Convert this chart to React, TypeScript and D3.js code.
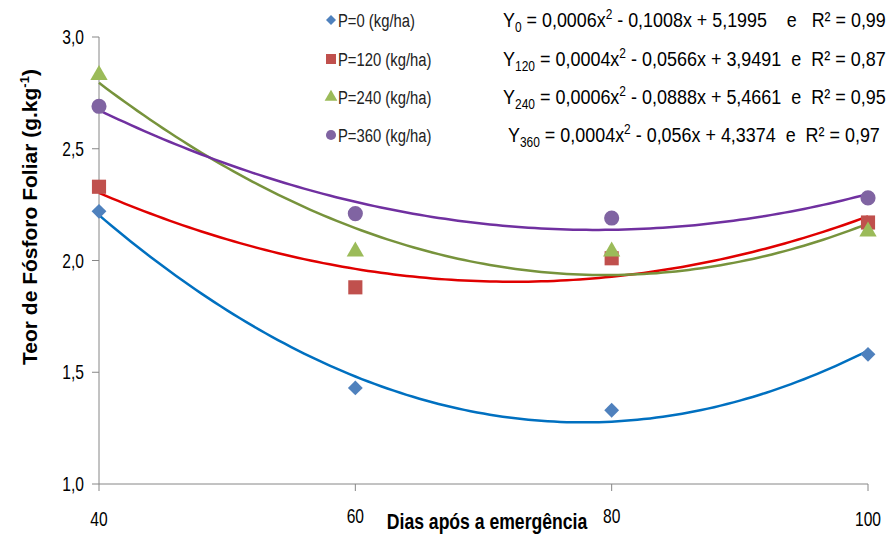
import React, { useEffect, useRef } from "react";
import * as d3 from "d3";

const dias = [40, 60, 80, 100];
const p0 = [2.22, 1.43, 1.33, 1.58];
const p120 = [2.33, 1.88, 2.01, 2.17];
const p240 = [2.83, 2.04, 2.04, 2.13];
const p360 = [2.69, 2.21, 2.19, 2.28];
const yTicks = [1.0, 1.5, 2.0, 2.5, 3.0];
const legendLabels = ["P=0 (kg/ha)", "P=120 (kg/ha)", "P=240 (kg/ha)", "P=360 (kg/ha)"];
const eqSub = ["0", "120", "240", "360"];
const eqA = ["0,0006", "0,0004", "0,0006", "0,0004"];
const eqB = ["0,1008x + 5,1995", "0,0566x + 3,9491", "0,0888x + 5,4661", "0,056x + 4,3374"];
const eqR2 = ["0,99", "0,87", "0,95", "0,97"];
const eqSep = ["    e   ", "  e  ", "  e  ", "  e  "];

const series = [
  { name: "p0", values: p0, marker: "#4F81BD", line: "#0070C0", shape: "diamond" },
  { name: "p120", values: p120, marker: "#C0504D", line: "#E00000", shape: "square" },
  { name: "p240", values: p240, marker: "#9BBB59", line: "#77933C", shape: "triangle" },
  { name: "p360", values: p360, marker: "#8064A2", line: "#7030A0", shape: "circle" },
];

// least squares quadratic (Excel style polynomial trendline)
function fitQuad(xs: number[], ys: number[]) {
  const n = xs.length;
  let s = [0, 0, 0, 0, 0];
  let t = [0, 0, 0];
  for (let i = 0; i < n; i++) {
    for (let k = 0; k < 5; k++) s[k] += Math.pow(xs[i], k);
    for (let k = 0; k < 3; k++) t[k] += ys[i] * Math.pow(xs[i], k);
  }
  const m = [
    [s[0], s[1], s[2], t[0]],
    [s[1], s[2], s[3], t[1]],
    [s[2], s[3], s[4], t[2]],
  ];
  for (let i = 0; i < 3; i++) {
    for (let j = i + 1; j < 3; j++) {
      const f = m[j][i] / m[i][i];
      for (let k = i; k < 4; k++) m[j][k] -= f * m[i][k];
    }
  }
  const c = [0, 0, 0];
  for (let i = 2; i >= 0; i--) {
    let v = m[i][3];
    for (let k = i + 1; k < 3; k++) v -= m[i][k] * c[k];
    c[i] = v / m[i][i];
  }
  return (x: number) => c[0] + c[1] * x + c[2] * x * x;
}

function symbolFor(shape: string, size: number) {
  const map: any = {
    diamond: d3.symbolSquare,
    square: d3.symbolSquare,
    triangle: d3.symbolTriangle,
    circle: d3.symbolCircle,
  };
  return d3.symbol().type(map[shape]).size(size)();
}

const sans = "'Liberation Sans', Arial, sans-serif";
const squeeze = 0.78; // the original uses a condensed face

export default function App() {
  const ref = useRef<SVGSVGElement>(null);

  useEffect(() => {
    document.body.style.margin = "0";
    const width = 889;
    const height = 535;
    const svg = d3.select(ref.current).attr("width", width).attr("height", height);
    svg.selectAll("*").remove();

    const xScale = d3.scaleLinear().domain([40, 100]).range([99, 868]);
    const yScale = d3.scaleLinear().domain([1, 3]).range([484, 37]);

    svg.append("rect").attr("width", width).attr("height", height).attr("fill", "#fff");

    // axes
    const axisColor = "#868686";
    svg.append("line").attr("x1", 99).attr("x2", 99).attr("y1", yScale(3)).attr("y2", yScale(1))
      .attr("stroke", axisColor).attr("stroke-width", 1);
    svg.append("line").attr("x1", 99).attr("x2", 868).attr("y1", yScale(1)).attr("y2", yScale(1))
      .attr("stroke", axisColor).attr("stroke-width", 1);

    svg.selectAll(".ytick").data(yTicks).join("line").attr("class", "ytick")
      .attr("x1", 92).attr("x2", 99)
      .attr("y1", d => yScale(d)).attr("y2", d => yScale(d))
      .attr("stroke", axisColor);
    svg.selectAll(".ylab").data(yTicks).join("text").attr("class", "ylab")
      .attr("transform", d => `translate(84,${yScale(d)}) scale(${squeeze},1)`)
      .attr("dy", "0.35em")
      .attr("text-anchor", "end").attr("font-family", sans).attr("font-size", 20)
      .attr("fill", "#000")
      .text(d => d3.format(".1f")(d).replace(".", ","));

    svg.selectAll(".xtick").data(dias).join("line").attr("class", "xtick")
      .attr("x1", d => xScale(d)).attr("x2", d => xScale(d))
      .attr("y1", yScale(1)).attr("y2", yScale(1) + 7)
      .attr("stroke", axisColor);
    svg.selectAll(".xlab").data(dias).join("text").attr("class", "xlab")
      .attr("transform", d => `translate(${xScale(d)},${d === 40 || d === 100 ? 526 : 523}) scale(${squeeze},1)`)
      .attr("text-anchor", "middle").attr("font-family", sans).attr("font-size", 20)
      .attr("fill", "#000")
      .text(d => d);

    // titles
    svg.append("text").attr("transform", `translate(487,529) scale(0.8,1)`).attr("text-anchor", "middle")
      .attr("font-family", sans).attr("font-weight", "bold").attr("font-size", 22)
      .text("Dias após a emergência");

    const yt = svg.append("text").attr("transform", "translate(37,217) rotate(-90)")
      .attr("text-anchor", "middle").attr("font-family", sans)
      .attr("font-weight", "bold").attr("font-size", 21);
    yt.append("tspan").text("Teor de Fósforo Foliar (g.kg");
    yt.append("tspan").attr("dy", -8).attr("font-size", 13).text("-1");
    yt.append("tspan").attr("dy", 8).text(")");

    // trendlines
    const xs = d3.range(40, 100.01, 0.5);
    series.forEach(s => {
      const f = fitQuad(dias, s.values);
      const line = d3.line<number>().x(d => xScale(d)).y(d => yScale(f(d)));
      svg.append("path").datum(xs).attr("d", line).attr("fill", "none")
        .attr("stroke", s.line).attr("stroke-width", 2.5);
    });

    // markers
    series.forEach(s => {
      svg.selectAll(".m-" + s.name).data(s.values).join("path").attr("class", "m-" + s.name)
        .attr("d", symbolFor(s.shape, s.shape === "circle" ? 180 : s.shape === "triangle" ? 130 : s.shape === "diamond" ? 110 : 200))
        .attr("transform", (d, i) => `translate(${xScale(dias[i])},${yScale(d)})${s.shape === "diamond" ? " rotate(45)" : ""}`)
        .attr("fill", s.marker);
    });

    // legend + equations
    const rows = [20, 59, 97, 135];
    const eqStart = [503, 503, 503, 508];
    const eqEnd = [886, 886, 886, 880];
    series.forEach((s, i) => {
      const g = svg.append("g").attr("transform", `translate(331,${rows[i]})`);
      g.append("path")
        .attr("d", symbolFor(s.shape, s.shape === "circle" ? 80 : s.shape === "triangle" ? 70 : s.shape === "diamond" ? 50 : 100))
        .attr("transform", s.shape === "diamond" ? "rotate(45)" : null)
        .attr("fill", s.marker);
      g.append("text").attr("transform", `translate(7,0) scale(${squeeze},1)`).attr("dy", "0.35em")
        .attr("font-family", sans).attr("font-size", 19).attr("fill", "#222")
        .text(legendLabels[i]);

      const eq = svg.append("text").attr("dy", "0.35em")
        .attr("font-family", sans).attr("font-size", 21).attr("fill", "#000")
        .style("white-space", "pre");
      eq.append("tspan").text("Y");
      eq.append("tspan").attr("dy", 5).attr("font-size", 14).text(eqSub[i]);
      eq.append("tspan").attr("dy", -5).text(` = ${eqA[i]}x`);
      eq.append("tspan").attr("dy", -8).attr("font-size", 14).text("2");
      eq.append("tspan").attr("dy", 8).text(` - ${eqB[i]}${eqSep[i]}R² = ${eqR2[i]}`);
      const w = (eq.node() as SVGTextElement).getBBox().width;
      const sx = (eqEnd[i] - eqStart[i]) / w;
      eq.attr("transform", `translate(${eqStart[i]},${rows[i]}) scale(${sx},1)`);
    });
  }, []);

  return <svg ref={ref} style={{ display: "block" }}></svg>;
}
